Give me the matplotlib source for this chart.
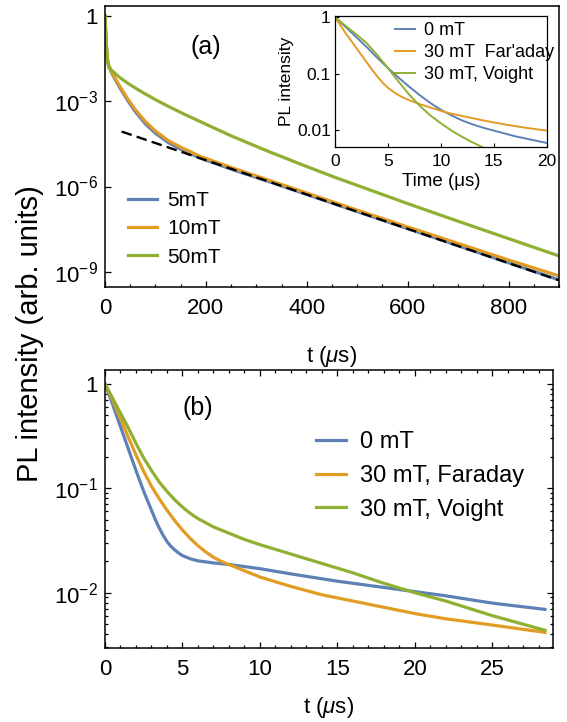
import numpy as np
import matplotlib
matplotlib.use("Agg")
import matplotlib.pyplot as plt
from matplotlib.ticker import FixedLocator, FixedFormatter, MultipleLocator, NullLocator, LogLocator

plt.rcParams['font.family'] = ['Liberation Sans', 'DejaVu Sans']
plt.rcParams['mathtext.fontset'] = 'custom'
plt.rcParams['mathtext.rm'] = 'Liberation Sans'
plt.rcParams['mathtext.it'] = 'Liberation Sans:italic'
plt.rcParams['mathtext.sf'] = 'Liberation Sans'

BLUE = '#5E81B5'
ORANGE = '#E19C24'
GREEN = '#8FB032'

# ---------------- panel (a): long-time decay, log10 of PL intensity ----------------
t_a_blue = [0, 1, 2, 3, 4, 5, 6, 8, 12, 20, 30, 45, 60, 80, 100, 125, 150, 190, 250, 320,
            400, 500, 600, 700, 800, 900]
log_a_blue = [0, -0.45, -0.8, -1.1, -1.35, -1.55, -1.68, -1.8, -1.97, -2.24, -2.55, -2.98,
              -3.37, -3.8, -4.13, -4.45, -4.69, -5.01, -5.39, -5.8, -6.28, -6.88, -7.48,
              -8.08, -8.68, -9.28]
t_a_orange = [0, 1, 2, 3, 4, 5, 6, 8, 12, 20, 30, 45, 60, 80, 100, 125, 150, 190, 250, 320,
              400, 500, 600, 700, 800, 900]
log_a_orange = [0, -0.45, -0.8, -1.1, -1.35, -1.55, -1.68, -1.8, -1.95, -2.2, -2.5, -2.92,
                -3.3, -3.72, -4.05, -4.38, -4.62, -4.95, -5.33, -5.75, -6.23, -6.83, -7.42,
                -8.0, -8.58, -9.14]
t_a_green = [0, 1, 2, 3, 4, 5, 6, 8, 12, 20, 30, 45, 60, 80, 100, 125, 150, 190, 250, 320,
             390, 450, 525, 600, 700, 800, 900]
log_a_green = [0, -0.45, -0.8, -1.1, -1.35, -1.55, -1.68, -1.78, -1.9, -2.03, -2.18, -2.37,
               -2.54, -2.75, -2.95, -3.18, -3.4, -3.73, -4.22, -4.74, -5.23, -5.64, -6.12,
               -6.6, -7.22, -7.83, -8.44]
labels_a = ['5mT', '10mT', '50mT']

# single-exponential guide line (end points)
t_guide = [33, 900]
guide = [8.5e-5, 5.1e-10]

# ---------------- inset: early-time decay ----------------
t_in_blue = [0, 1, 2, 3, 4, 5, 6, 7, 8, 9, 10, 11, 12, 13, 14, 15, 16, 17, 18, 19, 20]
log_in_blue = [0, -0.17, -0.35, -0.53, -0.72, -0.9, -1.07, -1.23, -1.38, -1.52, -1.64, -1.74,
               -1.83, -1.9, -1.96, -2.01, -2.06, -2.11, -2.15, -2.19, -2.23]
t_in_orange = [0, 0.5, 1, 1.5, 2, 2.5, 3, 3.5, 4, 4.5, 5, 5.5, 6, 6.5, 7, 8, 9, 10, 11, 12,
               14, 16, 18, 20]
log_in_orange = [0, -0.14, -0.28, -0.41, -0.54, -0.67, -0.8, -0.93, -1.05, -1.16, -1.25,
                 -1.32, -1.38, -1.43, -1.47, -1.54, -1.6, -1.66, -1.71, -1.75, -1.83, -1.9,
                 -1.96, -2.01]
t_in_green = [0, 1, 2, 3, 4, 5, 6, 7, 8, 9, 10, 11, 12, 13, 14]
log_in_green = [0, -0.15, -0.3, -0.46, -0.67, -0.9, -1.14, -1.37, -1.57, -1.74, -1.88,
                -2.01, -2.12, -2.22, -2.31]
labels_in = ['0 mT', "30 mT  Far'aday", '30 mT, Voight']

# ---------------- panel (b): early-time decay ----------------
t_b_blue = [0, 0.5, 1, 1.5, 2, 2.5, 3, 3.25, 3.5, 3.75, 4, 4.25, 4.5, 4.75, 5, 5.5, 6, 7, 8,
            10, 12, 15, 18, 20, 22, 25, 28.4]
log_b_blue = [0, -0.2, -0.41, -0.62, -0.83, -1.03, -1.21, -1.3, -1.38, -1.45, -1.51, -1.555,
              -1.59, -1.62, -1.645, -1.675, -1.695, -1.715, -1.73, -1.77, -1.82, -1.89, -1.95,
              -1.99, -2.03, -2.1, -2.16]
t_b_orange = [0, 0.5, 1, 1.5, 2, 2.5, 3, 3.5, 4, 4.5, 5, 5.5, 6, 6.5, 7, 7.5, 8, 9, 10, 12,
              14, 16, 18, 20, 22, 25, 28.4]
log_b_orange = [0, -0.16, -0.33, -0.51, -0.68, -0.84, -0.98, -1.1, -1.21, -1.31, -1.4, -1.48,
                -1.55, -1.61, -1.66, -1.7, -1.73, -1.79, -1.85, -1.94, -2.02, -2.08, -2.14,
                -2.2, -2.25, -2.31, -2.38]
t_b_green = [0, 0.5, 1, 1.5, 2, 2.5, 3, 3.5, 4, 4.5, 5, 5.5, 6, 7, 8, 9, 10, 12, 14, 16, 18,
             20, 22, 25, 28.4]
log_b_green = [0, -0.14, -0.28, -0.42, -0.57, -0.71, -0.83, -0.94, -1.03, -1.11, -1.18,
               -1.24, -1.29, -1.37, -1.43, -1.49, -1.54, -1.63, -1.72, -1.81, -1.91, -2.0,
               -2.08, -2.22, -2.36]
labels_b = ['0 mT', '30 mT, Faraday', '30 mT, Voight']


def pw(v):
    return 10.0 ** np.asarray(v, dtype=float)


W, H = 567, 722
fig = plt.figure(figsize=(W / 100, H / 100), dpi=100)


def box(l, t, r, b):
    return [l / W, 1 - b / H, (r - l) / W, (b - t) / H]


FRAME_LW = 1.1

# ---------------- panel (a) ----------------
ax_a = fig.add_axes(box(105, 6, 559, 287))
lw = 2.3
ax_a.plot(t_a_blue, pw(log_a_blue), color=BLUE, lw=lw, label=labels_a[0])
ax_a.plot(t_a_orange, pw(log_a_orange), color=ORANGE, lw=lw, label=labels_a[1])
ax_a.plot(t_a_green, pw(log_a_green), color=GREEN, lw=lw, label=labels_a[2])
ax_a.plot(t_guide, guide, color='black', lw=1.7, dashes=(4.5, 2.2))
ax_a.set_yscale('log')
ax_a.set_xlim(0, 900)
ax_a.set_ylim(10 ** -9.53, 10 ** 0.34)
ax_a.xaxis.set_major_locator(FixedLocator([0, 200, 400, 600, 800]))
ax_a.xaxis.set_minor_locator(MultipleLocator(50))
ax_a.yaxis.set_major_locator(FixedLocator([1, 1e-3, 1e-6, 1e-9]))
ax_a.yaxis.set_major_formatter(FixedFormatter(['1', r'$\mathregular{10^{-3}}$',
                                               r'$\mathregular{10^{-6}}$', r'$\mathregular{10^{-9}}$']))
ax_a.yaxis.set_minor_locator(NullLocator())
ax_a.tick_params(which='both', direction='in', top=False, right=False, labelsize=16,
                 width=0.9)
ax_a.tick_params(axis='x', pad=8)
ax_a.tick_params(axis='y', pad=5)
ax_a.tick_params(which='major', length=4)
ax_a.tick_params(which='minor', length=2.5)
ax_a.set_xlabel(r't ($\mathit{\mu}$s)', fontsize=16, labelpad=18)
for s in ax_a.spines.values():
    s.set_linewidth(FRAME_LW)
ax_a.text(200 / 900, 1 - 41 / 281, '(a)', transform=ax_a.transAxes, fontsize=18,
          ha='center', va='center')
ax_a.legend(frameon=False, fontsize=15, handlelength=1.4, handletextpad=0.5,
            labelspacing=0.45, borderpad=0, borderaxespad=0,
            loc='upper left', bbox_to_anchor=(128 / W, 1 - 191 / H),
            bbox_transform=fig.transFigure)

# ---------------- inset ----------------
ax_i = fig.add_axes(box(335, 16, 546.7, 146.7))
lwi = 1.4
ax_i.plot(t_in_blue, pw(log_in_blue), color=BLUE, lw=lwi, label=labels_in[0])
ax_i.plot(t_in_orange, pw(log_in_orange), color=ORANGE, lw=lwi, label=labels_in[1])
ax_i.plot(t_in_green, pw(log_in_green), color=GREEN, lw=lwi, label=labels_in[2])
ax_i.set_yscale('log')
ax_i.set_xlim(0, 20)
ax_i.set_ylim(10 ** -2.296, 10 ** 0.023)
ax_i.xaxis.set_major_locator(FixedLocator([0, 5, 10, 15, 20]))
ax_i.xaxis.set_minor_locator(NullLocator())
ax_i.yaxis.set_major_locator(FixedLocator([1, 0.1, 0.01]))
ax_i.yaxis.set_major_formatter(FixedFormatter(['1', '0.1', '0.01']))
ax_i.yaxis.set_minor_locator(NullLocator())
ax_i.tick_params(which='both', direction='in', top=False, right=False, labelsize=12.5,
                 width=0.8, length=3)
ax_i.tick_params(axis='x', pad=5)
ax_i.tick_params(axis='y', pad=3)
ax_i.set_xlabel('Time (\u03bcs)', fontsize=13.5, labelpad=3)
ax_i.set_ylabel('PL intensity', fontsize=12.5, labelpad=2)
for s in ax_i.spines.values():
    s.set_linewidth(0.9)
ax_i.legend(frameon=False, fontsize=13, handlelength=1.1, handletextpad=0.5,
            labelspacing=0.28, borderpad=0, borderaxespad=0,
            loc='upper left', bbox_to_anchor=(395 / W, 1 - 22 / H),
            bbox_transform=fig.transFigure)

# ---------------- panel (b) ----------------
ax_b = fig.add_axes(box(105, 370, 552.7, 647.7))
ax_b.plot(t_b_blue, pw(log_b_blue), color=BLUE, lw=lw, label=labels_b[0])
ax_b.plot(t_b_orange, pw(log_b_orange), color=ORANGE, lw=lw, label=labels_b[1])
ax_b.plot(t_b_green, pw(log_b_green), color=GREEN, lw=lw, label=labels_b[2])
ax_b.set_yscale('log')
ax_b.set_xlim(0, 28.9)
ax_b.set_ylim(10 ** -2.527, 10 ** 0.133)
ax_b.xaxis.set_major_locator(FixedLocator([0, 5, 10, 15, 20, 25]))
ax_b.xaxis.set_minor_locator(MultipleLocator(1))
ax_b.yaxis.set_major_locator(FixedLocator([1, 0.1, 0.01]))
ax_b.yaxis.set_major_formatter(FixedFormatter(['1', r'$\mathregular{10^{-1}}$',
                                               r'$\mathregular{10^{-2}}$']))
ax_b.yaxis.set_minor_locator(LogLocator(base=10, subs=np.arange(2, 10)))
ax_b.yaxis.set_minor_formatter(FixedFormatter([]))
ax_b.tick_params(which='both', direction='in', top=True, right=True, labelsize=16,
                 width=0.9)
ax_b.tick_params(axis='x', pad=8)
ax_b.tick_params(axis='y', pad=5)
ax_b.tick_params(which='major', length=4)
ax_b.tick_params(which='minor', length=2.5)
ax_b.set_xlabel(r't ($\mathit{\mu}$s)', fontsize=16, labelpad=11)
for s in ax_b.spines.values():
    s.set_linewidth(FRAME_LW)
ax_b.text((198 - 105) / 447.7, 1 - (408 - 370) / 277.7, '(b)', transform=ax_b.transAxes,
          fontsize=18, ha='center', va='center')
ax_b.legend(frameon=False, fontsize=17, handlelength=1.25, handletextpad=0.6,
            labelspacing=0.5, borderpad=0, borderaxespad=0,
            loc='upper left', bbox_to_anchor=(316 / W, 1 - 431 / H),
            bbox_transform=fig.transFigure)

# shared y label
fig.text(30 / W, 1 - 334 / H, 'PL intensity (arb. units)', rotation=90, fontsize=21,
         ha='center', va='center')

fig.savefig('out.png', dpi=100)
